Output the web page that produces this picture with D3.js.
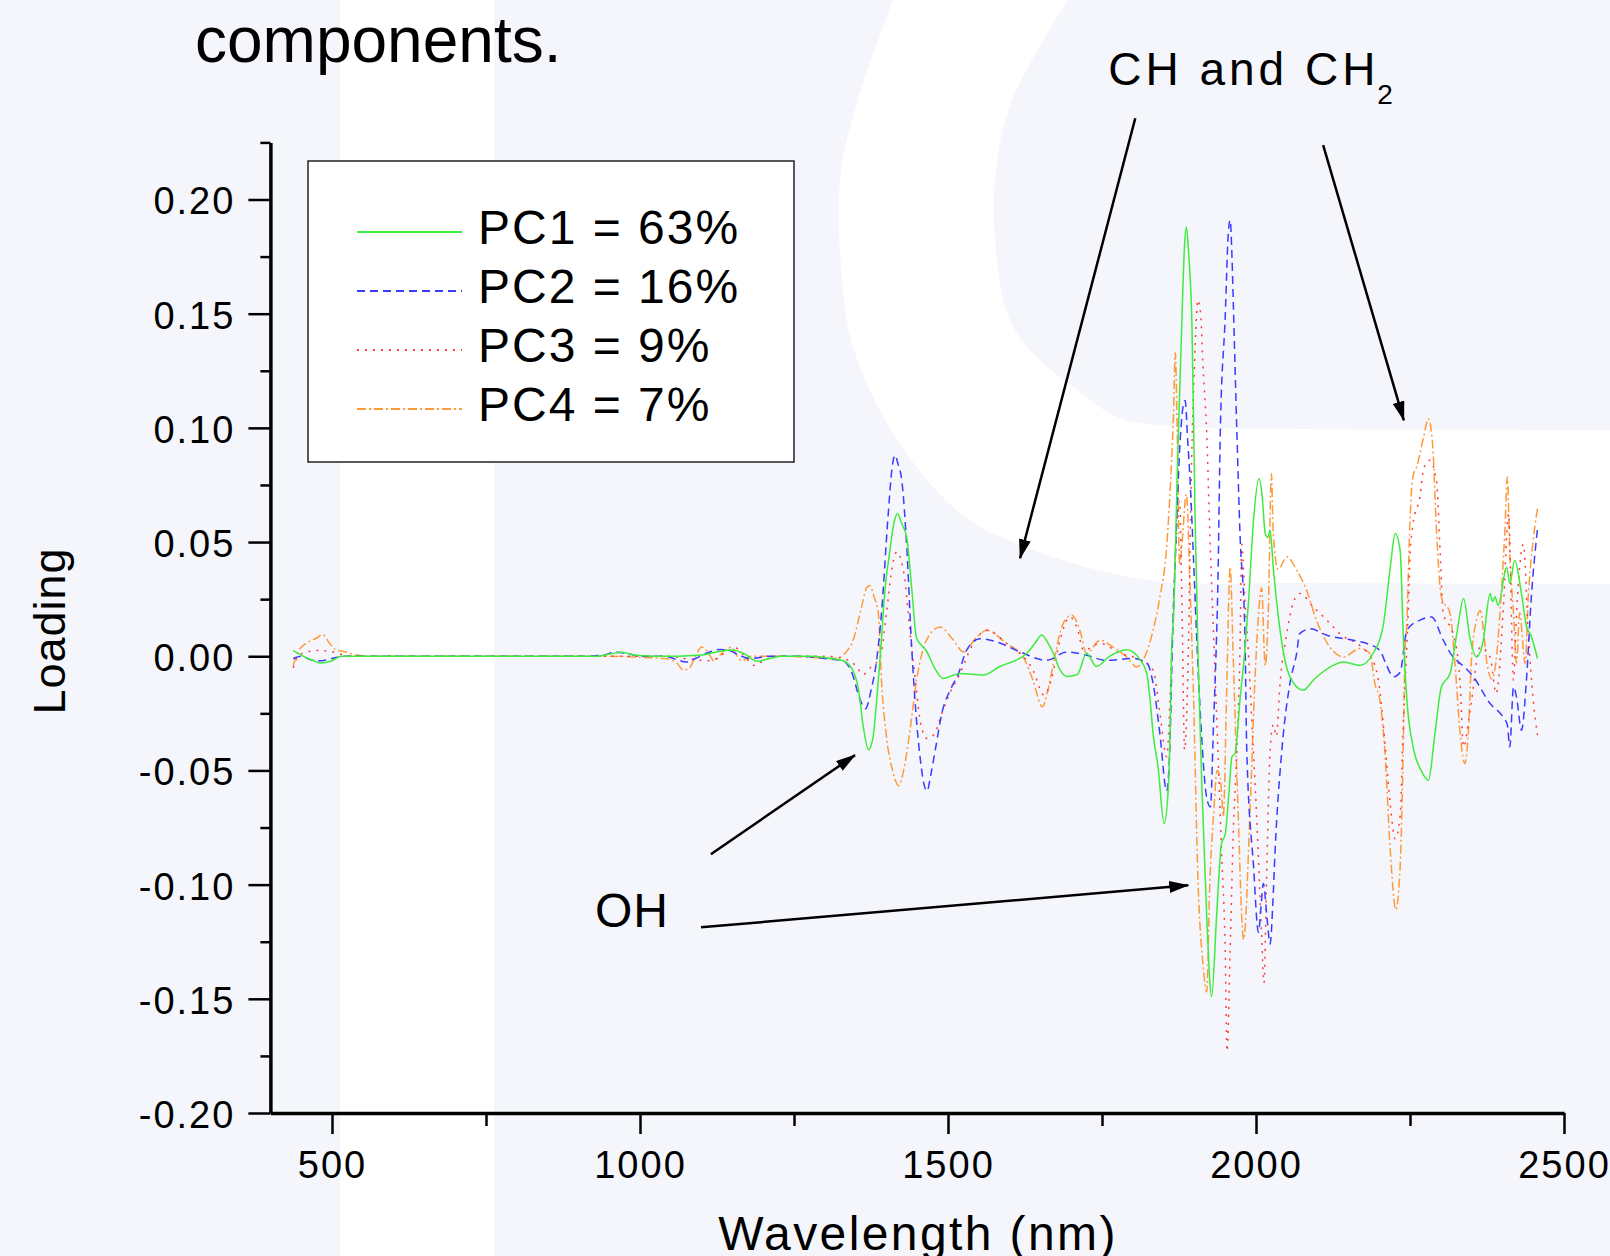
<!DOCTYPE html>
<html>
<head>
<meta charset="utf-8">
<script src="https://cdn.jsdelivr.net/npm/d3@7"></script>
<style>
  body { margin: 0; background: #f4f6fb; }
  svg text { font-family: "Liberation Sans", Arial, sans-serif; fill: #000; }
</style>
</head>
<body>
<svg id="chart"></svg>
<script>
// tick values
const wavelengthTicks = [500, 1000, 1500, 2000, 2500];
const wavelengthMinor = [750, 1250, 1750, 2250];
const loadingTicks = [-0.2, -0.15, -0.1, -0.05, 0, 0.05, 0.1, 0.15, 0.2];
const loadingMinor = [-0.175, -0.125, -0.075, -0.025, 0.025, 0.075, 0.125, 0.175, 0.225];

const seriesNames = ["PC1 = 63%", "PC2 = 16%", "PC3 = 9%", "PC4 = 7%"];

// [wavelength nm, loading]
const pc1 = [[437,0.0025],[450,0.0005],[470,-0.002],[482,-0.003],[500,-0.002],[515,0],[560,0],[650,0],[750,0],[850,0],[930,0],[955,0.0012],[970,0.0017],[990,0.0005],[1020,0],[1060,0],[1100,0.0005],[1130,0.0022],[1150,0.0027],[1170,0.001],[1190,-0.0022],[1210,-0.001],[1230,0],[1280,0],[1310,-0.001],[1330,-0.002],[1345,-0.006],[1355,-0.015],[1362,-0.03],[1371,-0.041],[1378,-0.036],[1384,-0.02],[1390,0],[1398,0.03],[1405,0.045],[1412,0.058],[1418,0.0625],[1425,0.058],[1433,0.052],[1441,0.03],[1449,0.008],[1465,0.0023],[1480,-0.006],[1492,-0.0097],[1519,-0.0075],[1557,-0.0082],[1584,-0.0045],[1628,0.0013],[1642,0.006],[1652,0.0093],[1662,0.006],[1671,0.0013],[1682,-0.006],[1693,-0.0089],[1710,-0.008],[1725,0.0013],[1741,-0.0045],[1762,-0.0001],[1790,0.0028],[1812,-0.0016],[1823,-0.008],[1828,-0.019],[1833,-0.034],[1841,-0.0485],[1851,-0.0733],[1858,-0.056],[1861,-0.027],[1863,0.0026],[1866,0.016],[1873,0.089],[1880,0.15],[1884,0.18],[1887,0.188],[1891,0.175],[1896,0.1455],[1901,0.0625],[1906,0],[1912,-0.056],[1920,-0.114],[1928,-0.149],[1936,-0.114],[1944,-0.082],[1950,-0.078],[1956,-0.06],[1961,-0.044],[1966,-0.0426],[1974,-0.019],[1982,0.0026],[1988,0.0245],[1996,0.0596],[2005,0.0778],[2010,0.07],[2015,0.0538],[2019,0.052],[2023,0.0552],[2028,0.039],[2039,0.0114],[2055,-0.009],[2077,-0.0149],[2093,-0.0105],[2125,-0.004],[2142,-0.0025],[2169,-0.004],[2190,0.0012],[2207,0.0143],[2218,0.039],[2226,0.0537],[2234,0.0464],[2239,0.0099],[2245,-0.0193],[2255,-0.0397],[2268,-0.05],[2280,-0.0543],[2290,-0.035],[2301,-0.0134],[2315,-0.0076],[2326,0.0099],[2337,0.0253],[2347,0.0085],[2358,-0.0003],[2369,0.007],[2380,0.0275],[2384,0.024],[2388,0.026],[2393,0.0223],[2407,0.039],[2412,0.0318],[2420,0.042],[2431,0.0274],[2440,0.012],[2445,0.0099],[2457,-0.001]];

const pc2 = [[437,-0.001],[450,0],[465,-0.0015],[480,-0.002],[500,-0.001],[520,0],[600,0],[700,0],[800,0],[900,0],[940,0.0005],[960,0.0018],[980,0.0012],[1000,0],[1040,0],[1060,-0.0015],[1075,-0.0025],[1090,-0.001],[1110,0.0015],[1130,0.003],[1145,0.0025],[1165,0],[1180,-0.001],[1210,0],[1260,0],[1300,-0.001],[1330,-0.002],[1345,-0.008],[1356,-0.018],[1366,-0.023],[1375,-0.015],[1385,0],[1392,0.0187],[1403,0.0625],[1409,0.082],[1414,0.088],[1419,0.084],[1425,0.077],[1433,0.048],[1441,0.004],[1448,-0.025],[1455,-0.045],[1461,-0.056],[1466,-0.059],[1472,-0.052],[1480,-0.04],[1490,-0.025],[1505,-0.014],[1517,-0.0076],[1530,0.0026],[1552,0.0077],[1579,0.0063],[1617,0.0019],[1660,-0.0018],[1693,0.0019],[1725,0.0004],[1757,-0.0018],[1801,-0.001],[1823,-0.003],[1833,-0.012],[1844,-0.034],[1855,-0.059],[1860,-0.041],[1864,0.003],[1870,0.05],[1877,0.095],[1882,0.11],[1885,0.112],[1889,0.095],[1893,0.077],[1900,0.033],[1905,0],[1910,-0.027],[1920,-0.062],[1926,-0.066],[1931,-0.03],[1935,0],[1938,0.03],[1942,0.0975],[1950,0.1486],[1955,0.185],[1958,0.191],[1961,0.175],[1963,0.156],[1969,0.0975],[1974,0.0537],[1982,0.0099],[1985,-0.041],[1996,-0.092],[2004,-0.121],[2008,-0.11],[2012,-0.0995],[2018,-0.115],[2023,-0.126],[2027,-0.11],[2031,-0.085],[2042,-0.041],[2055,-0.012],[2066,0.0013],[2071,0.0099],[2088,0.012],[2115,0.0092],[2158,0.007],[2180,0.0056],[2201,0.0026],[2212,-0.004],[2223,-0.009],[2234,-0.007],[2245,0.0114],[2266,0.0158],[2285,0.0172],[2304,0.007],[2320,-0.0003],[2326,-0.0018],[2353,-0.009],[2380,-0.0207],[2401,-0.0266],[2408,-0.03],[2412,-0.0397],[2418,-0.0134],[2423,-0.018],[2431,-0.0324],[2439,-0.0105],[2447,0.026],[2457,0.0559]];

const pc3 = [[437,-0.005],[445,0],[460,0.002],[480,0.0025],[500,0.002],[520,0.0005],[540,0],[600,0],[700,0],[800,0],[900,0],[1000,0],[1050,0],[1070,-0.001],[1090,-0.0015],[1110,-0.002],[1125,-0.001],[1140,0.002],[1155,0.0036],[1170,0],[1185,-0.004],[1200,-0.002],[1220,0],[1300,0],[1330,-0.001],[1350,-0.004],[1362,-0.008],[1374,-0.005],[1390,-0.0003],[1400,0.0187],[1410,0.04],[1417,0.0457],[1424,0.042],[1430,0.0333],[1438,0.0114],[1447,-0.0105],[1456,-0.03],[1466,-0.036],[1478,-0.034],[1490,-0.025],[1505,-0.015],[1517,-0.009],[1541,0.0056],[1563,0.0114],[1595,0.0056],[1638,-0.0061],[1656,-0.017],[1668,-0.01],[1680,0.005],[1698,0.0172],[1710,0.012],[1720,0.0026],[1747,0.0056],[1779,0.0013],[1812,-0.0016],[1833,-0.0061],[1844,-0.025],[1855,-0.044],[1863,0],[1870,0.05],[1876,0.068],[1880,0.02],[1884,-0.041],[1890,0],[1895,0.08],[1900,0.127],[1906,0.156],[1910,0.15],[1914,0.127],[1920,0.0975],[1925,0.054],[1931,0.01],[1938,-0.04],[1944,-0.085],[1950,-0.129],[1953,-0.173],[1958,-0.129],[1963,-0.078],[1969,-0.041],[1974,0.003],[1977,0.049],[1982,0.0245],[1988,0],[1993,-0.027],[2001,-0.07],[2009,-0.121],[2013,-0.143],[2017,-0.0995],[2023,-0.041],[2028,-0.03],[2033,-0.035],[2039,-0.012],[2050,0.01],[2060,0.023],[2071,0.0275],[2093,0.0216],[2115,0.0158],[2136,0.0099],[2174,0.0034],[2190,-0.0018],[2201,-0.0149],[2210,-0.04],[2218,-0.065],[2226,-0.08],[2234,-0.07],[2239,-0.03],[2245,0.005],[2247,0.0187],[2250,0.044],[2255,0.058],[2266,0.0697],[2272,0.082],[2282,0.0858],[2293,0.077],[2299,0.045],[2304,0.0187],[2320,0.0099],[2331,-0.0105],[2337,-0.0397],[2347,-0.025],[2364,0.004],[2380,-0.0003],[2390,-0.0163],[2401,0.0187],[2410,0.0625],[2418,-0.0105],[2423,0.0187],[2434,0.049],[2442,0.01],[2450,-0.019],[2457,-0.0346]];

const pc4 = [[437,-0.004],[445,0.002],[460,0.006],[475,0.008],[485,0.0095],[495,0.006],[505,0.003],[520,0.002],[540,0.0005],[560,0],[650,0],[750,0],[850,0],[950,0],[1000,-0.0005],[1040,-0.001],[1060,-0.003],[1070,-0.006],[1079,-0.0055],[1090,0],[1100,0.004],[1110,0.002],[1120,-0.002],[1135,0.002],[1148,0.004],[1158,0],[1165,-0.002],[1180,0],[1220,0],[1280,-0.0005],[1310,-0.001],[1325,-0.0003],[1335,0.002],[1346,0.007],[1360,0.022],[1368,0.03],[1373,0.031],[1380,0.026],[1387,0.0187],[1392,-0.0105],[1400,-0.035],[1410,-0.05],[1420,-0.0567],[1428,-0.05],[1437,-0.035],[1449,-0.0105],[1465,0.007],[1487,0.0128],[1509,0.007],[1525,0.0019],[1547,0.0085],[1563,0.0114],[1595,0.0056],[1622,-0.0003],[1638,-0.0105],[1653,-0.0221],[1662,-0.015],[1671,-0.0032],[1687,0.0143],[1701,0.018],[1714,0.0114],[1725,0.0013],[1747,0.007],[1768,0.004],[1790,-0.0003],[1806,-0.0047],[1817,-0.0016],[1833,0.0114],[1844,0.026],[1855,0.048],[1860,0.0697],[1866,0.106],[1869,0.133],[1872,0.1],[1876,0.04],[1880,0.05],[1887,0.071],[1893,0.03],[1898,-0.012],[1906,-0.0995],[1914,-0.135],[1920,-0.147],[1925,-0.0995],[1931,-0.07],[1937,-0.05],[1942,-0.053],[1947,-0.07],[1952,-0.02],[1958,0.039],[1963,0],[1970,-0.06],[1980,-0.124],[1990,-0.07],[1998,-0.012],[2006,0.0245],[2009,0.03],[2015,-0.004],[2020,0.02],[2025,0.08],[2028,0.054],[2036,0.038],[2050,0.0435],[2066,0.0377],[2082,0.029],[2098,0.0158],[2120,0.004],[2142,-0.0003],[2169,0.0034],[2185,0.0012],[2193,-0.012],[2201,-0.019],[2209,-0.041],[2218,-0.085],[2227,-0.111],[2234,-0.092],[2239,-0.041],[2242,0.003],[2245,0.015],[2247,0.0333],[2250,0.0595],[2255,0.079],[2261,0.083],[2272,0.096],[2280,0.104],[2287,0.0916],[2293,0.055],[2301,0.026],[2315,0.0187],[2323,-0.0032],[2331,-0.0324],[2339,-0.047],[2345,-0.032],[2350,-0.0003],[2358,0.0158],[2364,0.02],[2369,0.012],[2375,-0.0032],[2383,-0.01],[2391,0.0012],[2396,0.0187],[2404,0.055],[2408,0.0785],[2412,0.045],[2418,0.0187],[2423,-0.003],[2428,0.019],[2437,-0.0032],[2442,0.026],[2450,0.0508],[2457,0.0647]];

// annotation arrows in data units: [fromNm, fromLoading, toNm, toLoading]
const chArrows = [[1804, 0.2356, 1617, 0.0429], [2109, 0.2238, 2240, 0.1033]];
const ohArrows = [[1115, -0.0867, 1349, -0.0433], [1099, -0.1187, 1890, -0.1003]];

const width = 1610, height = 1256;
const colors = ["#3dec3d", "#3b3bff", "#ff3b3b", "#ff9a3a"];
const dashes = [null, "8,5", "2,6", "9,3,2,3"];
const font = '"Liberation Sans", Arial, sans-serif';

const svg = d3.select("#chart")
    .attr("width", width)
    .attr("height", height)
    .attr("viewBox", [0, 0, width, height]);

// slide background
svg.append("rect").attr("width", width).attr("height", height).attr("fill", "#f4f6fb");
svg.append("rect").attr("x", 340).attr("y", 0).attr("width", 154).attr("height", height).attr("fill", "#fff");
const outerEdge = [[893,0],[857,103],[840,180],[843,290],[853,347],[893,433],[960,513],[1033,550],[1153,581],[1300,583],[1610,584]];
const innerEdge = [[1610,430],[1300,429],[1187,427],[1120,418],[1073,387],[1027,347],[1007,313],[996,250],[995,180],[1011,103],[1068,0]];
svg.append("path")
    .attr("fill", "#fff")
    .attr("d", d3.line().curve(d3.curveCatmullRom)(outerEdge) + "L" +
               d3.line().curve(d3.curveCatmullRom)(innerEdge).slice(1) + "Z");

const x = d3.scaleLinear().domain([400, 2500]).range([270.4, 1564]);
const y = d3.scaleLinear().domain([-0.2, 0.225]).range([1113, 1113 - 0.425 * 2283.75]);

// title fragment at the top of the slide
svg.append("text").attr("x", 195).attr("y", 62)
    .attr("font-size", 64).text("components.");

// series
const line = d3.line().curve(d3.curveMonotoneX).x(d => x(d[0])).y(d => y(d[1]));
[pc4, pc3, pc2, pc1].forEach((s, k) => {
    const i = 3 - k;
    svg.append("path")
        .attr("fill", "none")
        .attr("stroke", colors[i])
        .attr("stroke-width", 1.5)
        .attr("stroke-dasharray", dashes[i])
        .attr("d", line(s));
});

// axes
function styleAxis(g, fs, ls) {
    g.attr("font-size", fs).attr("font-family", font);
    g.selectAll("text").attr("fill", "#000").style("letter-spacing", ls + "px");
    g.selectAll("line").attr("stroke", "#000").attr("stroke-width", 2.5);
    g.select(".domain").attr("stroke", "#000").attr("stroke-width", 3.5);
}

svg.append("g")
    .attr("transform", `translate(0,${y(-0.2)})`)
    .call(d3.axisBottom(x).tickValues(wavelengthMinor).tickSize(13).tickFormat("").tickSizeOuter(0))
    .call(g => g.select(".domain").remove())
    .call(g => styleAxis(g, 38, 2));
svg.append("g")
    .attr("transform", `translate(0,${y(-0.2)})`)
    .call(d3.axisBottom(x).tickValues(wavelengthTicks).tickSize(21).tickPadding(17)
        .tickFormat(d => String(d)).tickSizeOuter(0))
    .call(g => styleAxis(g, 38, 2));

svg.append("g")
    .attr("transform", `translate(${x(400)},0)`)
    .call(d3.axisLeft(y).tickValues(loadingMinor).tickSize(10).tickFormat("").tickSizeOuter(0))
    .call(g => g.select(".domain").remove())
    .call(g => styleAxis(g, 38, 2));
svg.append("g")
    .attr("transform", `translate(${x(400)},0)`)
    .call(d3.axisLeft(y).tickValues(loadingTicks).tickSize(22).tickPadding(13)
        .tickFormat(d => d.toFixed(2)).tickSizeOuter(0))
    .call(g => styleAxis(g, 38, 2))
    .call(g => g.selectAll("text").attr("dy", "0.38em"));

// axis titles
svg.append("text")
    .attr("transform", "translate(65,631) rotate(-90)")
    .attr("text-anchor", "middle")
    .attr("font-size", 45)
    .style("letter-spacing", "1px")
    .text("Loading");
svg.append("text")
    .attr("x", 918).attr("y", 1250)
    .attr("text-anchor", "middle")
    .attr("font-size", 48)
    .style("letter-spacing", "2.4px")
    .text("Wavelength (nm)");

// legend
const legend = svg.append("g");
legend.append("rect")
    .attr("x", 308).attr("y", 161).attr("width", 486).attr("height", 301)
    .attr("fill", "#fff").attr("stroke", "#222").attr("stroke-width", 1.5);
seriesNames.forEach((name, i) => {
    const ly = 232 + i * 59;
    legend.append("line")
        .attr("x1", 357).attr("x2", 462).attr("y1", ly).attr("y2", ly)
        .attr("stroke", colors[i]).attr("stroke-width", 2)
        .attr("stroke-dasharray", dashes[i]);
    legend.append("text")
        .attr("x", 478).attr("y", ly + 12)
        .attr("font-size", 48)
        .style("letter-spacing", "2px")
        .text(name);
});

// annotations
svg.append("defs").append("marker")
    .attr("id", "head")
    .attr("viewBox", "0 0 20 12")
    .attr("refX", 19).attr("refY", 6)
    .attr("markerWidth", 20).attr("markerHeight", 12)
    .attr("markerUnits", "userSpaceOnUse")
    .attr("orient", "auto")
    .append("path").attr("d", "M0,0L20,6L0,12Z").attr("fill", "#000");

chArrows.concat(ohArrows).forEach(a => {
    svg.append("line")
        .attr("x1", x(a[0])).attr("y1", y(a[1]))
        .attr("x2", x(a[2])).attr("y2", y(a[3]))
        .attr("stroke", "#000").attr("stroke-width", 2.5)
        .attr("marker-end", "url(#head)");
});

const ch = svg.append("text")
    .attr("x", x(1760)).attr("y", y(0.25))
    .attr("font-size", 46)
    .style("letter-spacing", "4px");
ch.append("tspan").text("CH and CH");
ch.append("tspan").attr("font-size", 28).attr("dy", 19).attr("dx", -2).style("letter-spacing", "0px").text("2");

svg.append("text")
    .attr("x", x(927)).attr("y", y(-0.1187))
    .attr("font-size", 48)
    .style("letter-spacing", "1px")
    .text("OH");
</script>
</body>
</html>
